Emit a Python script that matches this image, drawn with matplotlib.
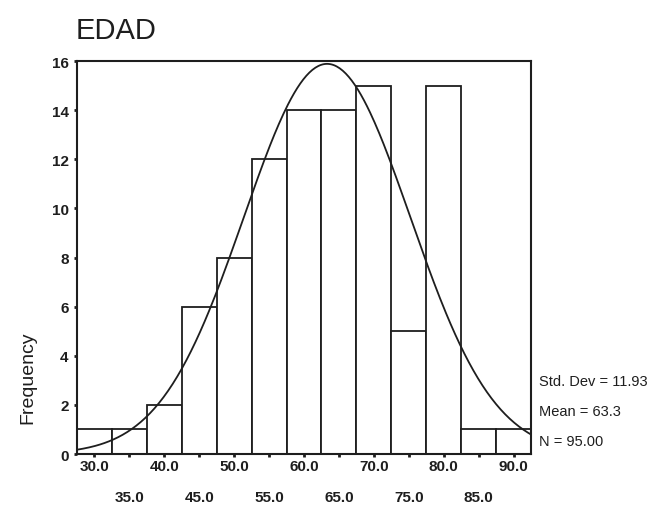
import numpy as np
import matplotlib
matplotlib.use("Agg")
import matplotlib.pyplot as plt

# --- data ---
bin_centers = [30, 35, 40, 45, 50, 55, 60, 65, 70, 75, 80, 85, 90]
counts = [1, 1, 2, 6, 8, 12, 14, 14, 15, 5, 15, 1, 1]
mean_val = 63.3
std_dev = 11.93
n_total = 95
bin_width = 5

upper_labels = [30, 40, 50, 60, 70, 80, 90]
lower_labels = [35, 45, 55, 65, 75, 85]

ink = "#1e1e1e"
plt.rcParams["font.family"] = ["Liberation Sans", "DejaVu Sans"]

fig = plt.figure(figsize=(6.71, 5.10), dpi=100)
ax = fig.add_axes([0.1148, 0.1078, 0.6766, 0.7706])

ax.bar(bin_centers, counts, width=bin_width, color="white",
       edgecolor=ink, linewidth=1.3)

# normal curve scaled to counts
xs = np.linspace(27.5, 92.5, 300)
ys = n_total * bin_width / (std_dev * np.sqrt(2 * np.pi)) * \
    np.exp(-0.5 * ((xs - mean_val) / std_dev) ** 2)
ax.plot(xs, ys, color=ink, linewidth=1.3)

ax.set_xlim(27.5, 92.5)
ax.set_ylim(0, 16)
for s in ax.spines.values():
    s.set_color(ink)
    s.set_linewidth(1.5)

ax.set_yticks(range(0, 17, 2))
ax.set_xticks(bin_centers)
ax.set_xticklabels([])
ax.tick_params(axis="both", direction="out", length=2.5, width=2,
               color=ink, labelsize=11, labelcolor=ink)
for lab in ax.get_yticklabels():
    lab.set_fontweight("bold")

# staggered x labels, two rows
for v in upper_labels:
    ax.text(v, -0.5, f"{v:.1f}", ha="center", va="center", fontsize=11,
            fontweight="bold", color=ink)
for v in lower_labels:
    ax.text(v, -1.75, f"{v:.1f}", ha="center", va="center", fontsize=11,
            fontweight="bold", color=ink)

fig.text(0.042, 0.259, "Frequency", rotation=90, ha="center", va="center",
         fontsize=14, color=ink)
fig.text(0.113, 0.94, "EDAD", ha="left", va="center", fontsize=21, color=ink)

stats = [f"Std. Dev = {std_dev:.2f}", f"Mean = {mean_val:.1f}",
         f"N = {n_total:.2f}"]
for i, line in enumerate(stats):
    fig.text(0.803, 0.251 - i * 0.059, line, ha="left", va="center",
             fontsize=10.5, color=ink)

fig.savefig("out.png", dpi=100)
